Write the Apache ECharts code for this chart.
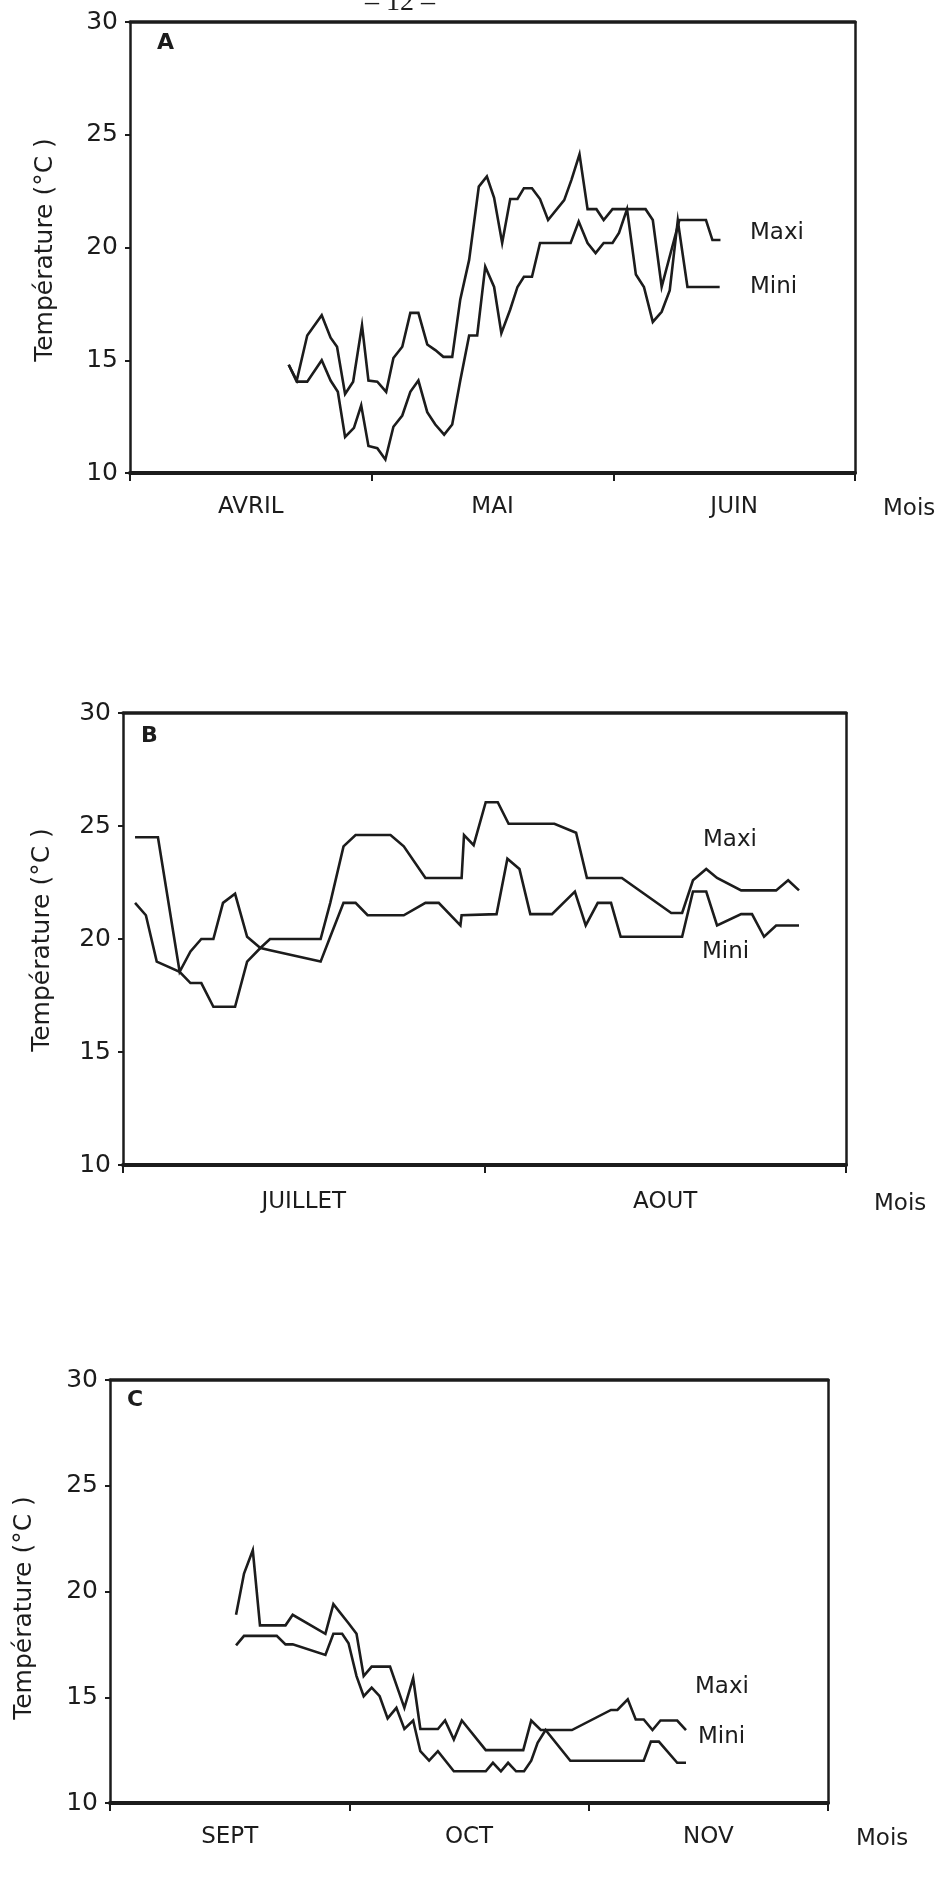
<!DOCTYPE html>
<html>
<head>
<meta charset="utf-8">
<script src="https://cdn.jsdelivr.net/npm/echarts@6/dist/echarts.min.js"></script>
<style>
  html, body { margin: 0; padding: 0; background: #ffffff; }
  #chart { width: 947px; height: 1881px; }
</style>
</head>
<body>
<div id="chart"></div>
<script>
// Daily max / min air temperature, three seasons (A: spring, B: summer, C: autumn).
// Each point is [day since start of first month, temperature °C].

const yTicks = [10, 15, 20, 25, 30];

// ---- A : avril - juin
const monthsA = ['AVRIL', 'MAI', 'JUIN'];
const maxiA = [
  [19.7, 14.8], [20.7, 14.1], [22.0, 16.1], [23.8, 17.0], [24.9, 16.0], [25.7, 15.6],
  [26.7, 13.5], [27.7, 14.05], [28.8, 16.55], [29.6, 14.1], [30.7, 14.05], [31.8, 13.6],
  [32.7, 15.1], [33.8, 15.6], [34.8, 17.1], [35.8, 17.1], [36.9, 15.7], [37.9, 15.45],
  [38.9, 15.15], [40.0, 15.15], [41.0, 17.7], [42.1, 19.45], [43.3, 22.7], [44.3, 23.15],
  [45.2, 22.2], [46.2, 20.2], [47.2, 22.15], [48.1, 22.15], [48.9, 22.63], [49.9, 22.63],
  [50.9, 22.15], [51.9, 21.22], [53.9, 22.1], [54.8, 23.0], [55.8, 24.13], [56.8, 21.7],
  [57.9, 21.7], [58.8, 21.22], [59.9, 21.7], [64.0, 21.7], [64.9, 21.22], [66.0, 18.26],
  [68.2, 21.22], [71.5, 21.22], [72.3, 20.33], [73.3, 20.33]
];
const miniA = [
  [19.7, 14.8], [20.7, 14.05], [22.0, 14.05], [23.8, 15.0], [24.9, 14.1], [25.8, 13.6],
  [26.7, 11.6], [27.8, 12.0], [28.7, 13.0], [29.6, 11.2], [30.7, 11.1], [31.7, 10.6],
  [32.7, 12.05], [33.8, 12.55], [34.8, 13.6], [35.8, 14.1], [36.9, 12.7], [37.9, 12.15],
  [39.0, 11.7], [40.0, 12.15], [41.0, 14.1], [42.1, 16.1], [43.1, 16.1], [44.1, 19.15],
  [45.2, 18.25], [46.1, 16.2], [47.2, 17.25], [48.1, 18.25], [48.9, 18.7], [49.9, 18.7],
  [50.9, 20.2], [54.7, 20.2], [55.7, 21.15], [56.8, 20.2], [57.8, 19.75], [58.8, 20.2],
  [59.9, 20.2], [60.7, 20.65], [61.7, 21.7], [62.8, 18.8], [63.8, 18.25], [64.9, 16.7],
  [66.0, 17.15], [67.0, 18.1], [68.0, 21.2], [69.2, 18.25], [73.2, 18.25]
];

// ---- B : juillet - aout
const monthsB = ['JUILLET', 'AOUT'];
const maxiB = [
  [1.0, 24.5], [2.9, 24.5], [4.7, 18.55], [5.6, 19.45], [6.5, 20.0], [7.5, 20.0],
  [8.3, 21.6], [9.3, 22.0], [10.3, 20.1], [11.4, 19.6], [12.2, 20.0], [16.4, 20.0],
  [17.2, 21.6], [18.3, 24.1], [19.3, 24.6], [22.2, 24.6], [23.3, 24.1], [25.1, 22.7],
  [28.1, 22.7], [28.3, 24.6], [29.1, 24.15], [30.1, 26.05], [31.1, 26.05], [32.0, 25.1],
  [35.8, 25.1], [37.6, 24.7], [38.5, 22.7], [41.4, 22.7], [45.5, 21.15], [46.4, 21.15],
  [47.3, 22.6], [48.4, 23.1], [49.3, 22.7], [51.3, 22.15], [54.2, 22.15], [55.2, 22.6],
  [56.1, 22.15]
];
const miniB = [
  [1.0, 21.6], [1.9, 21.05], [2.8, 19.0], [4.7, 18.55], [5.6, 18.05], [6.5, 18.05],
  [7.5, 17.0], [9.3, 17.0], [10.3, 19.0], [11.4, 19.6], [12.2, 19.5], [16.4, 19.0],
  [17.2, 20.1], [18.3, 21.6], [19.3, 21.6], [20.3, 21.05], [23.3, 21.05], [25.1, 21.6],
  [26.2, 21.6], [28.0, 20.6], [28.1, 21.05], [31.0, 21.1], [31.9, 23.55], [32.9, 23.1],
  [33.8, 21.1], [35.6, 21.1], [37.5, 22.1], [38.4, 20.6], [39.4, 21.6], [40.5, 21.6],
  [41.3, 20.1], [46.4, 20.1], [47.3, 22.1], [48.4, 22.1], [49.3, 20.6], [51.3, 21.1],
  [52.2, 21.1], [53.2, 20.1], [54.2, 20.6], [56.1, 20.6]
];

// ---- C : septembre - novembre
const monthsC = ['SEPT', 'OCT', 'NOV'];
const maxiC = [
  [15.8, 18.9], [16.8, 20.85], [17.9, 21.95], [18.8, 18.4], [22.0, 18.4], [22.9, 18.9],
  [27.0, 18.0], [28.0, 19.4], [29.9, 18.5], [30.9, 18.0], [31.8, 16.0], [32.8, 16.45],
  [35.1, 16.45], [36.9, 14.5], [38.0, 15.9], [38.9, 13.5], [41.1, 13.5], [42.0, 13.9],
  [43.1, 13.0], [44.1, 13.9], [47.1, 12.5], [51.8, 12.5], [52.8, 13.9], [54.0, 13.45],
  [57.9, 13.45], [62.8, 14.4], [63.6, 14.4], [64.9, 14.9], [65.9, 13.95], [66.9, 13.95],
  [68.0, 13.45], [69.0, 13.9], [71.1, 13.9], [72.2, 13.45]
];
const miniC = [
  [15.8, 17.45], [16.8, 17.9], [20.9, 17.9], [22.0, 17.5], [22.9, 17.5], [27.0, 17.0],
  [28.0, 18.0], [29.1, 18.0], [29.9, 17.55], [30.9, 16.0], [31.8, 15.05], [32.8, 15.45],
  [33.8, 15.05], [34.8, 14.0], [35.9, 14.5], [36.9, 13.5], [38.0, 13.9], [38.9, 12.45],
  [40.0, 12.0], [41.1, 12.45], [43.1, 11.5], [47.1, 11.5], [48.0, 11.9], [49.0, 11.5],
  [49.9, 11.9], [50.9, 11.5], [51.9, 11.5], [52.8, 12.0], [53.6, 12.85], [54.6, 13.45],
  [57.7, 12.0], [66.9, 12.0], [67.8, 12.9], [68.8, 12.9], [71.1, 11.9], [72.2, 11.9]
];

const INK = '#1c1c1c';
const FONT = 'DejaVu Sans';

// Panel frames (pixel layout) and label offsets
const panels = [
  { letter: 'A', months: monthsA, maxi: maxiA, mini: miniA, days: 90,
    grid: { left: 130, top: 22, width: 725, height: 451 }, labelMargin: 23,
    letterPos: [157, 43], title: [45, 250], maxiLab: [750, 233], miniLab: [750, 287] },
  { letter: 'B', months: monthsB, maxi: maxiB, mini: miniB, days: 60,
    grid: { left: 123, top: 713, width: 723, height: 452 }, labelMargin: 26,
    letterPos: [141, 736], title: [42, 940], maxiLab: [703, 840], miniLab: [702, 952] },
  { letter: 'C', months: monthsC, maxi: maxiC, mini: miniC, days: 90,
    grid: { left: 110, top: 1380, width: 718, height: 423 }, labelMargin: 23,
    letterPos: [127, 1400], title: [24, 1608], maxiLab: [695, 1687], miniLab: [698, 1737] }
];

const grid = [], xAxis = [], yAxis = [], series = [], graphic = [];

function textEl(x, y, text, size, opts) {
  const o = opts || {};
  return {
    type: 'text', x: x, y: y, rotation: o.rotation || 0,
    style: {
      text: text, fill: INK, fontFamily: o.family || FONT, fontSize: size,
      fontWeight: o.weight || 'normal',
      textAlign: o.align || 'left', textVerticalAlign: 'middle'
    }
  };
}

panels.forEach((p, i) => {
  grid.push(Object.assign({ containLabel: false }, p.grid));

  // month axis (bottom): ticks on month boundaries, names centred in each month
  xAxis.push({
    type: 'category', gridIndex: i, position: 'bottom', data: p.months, boundaryGap: true,
    axisLine: { lineStyle: { color: INK, width: 4 } },
    axisTick: { show: true, alignWithLabel: false, length: 8, lineStyle: { color: INK, width: 2 } },
    axisLabel: { color: INK, fontFamily: FONT, fontSize: 23, margin: p.labelMargin },
    name: 'Mois', nameLocation: 'end', nameGap: 28,
    nameTextStyle: { color: INK, fontFamily: FONT, fontSize: 23, verticalAlign: 'top',
                     padding: [p.labelMargin + 2, 0, 0, 0] },
    splitLine: { show: false }
  });
  // day axis carrying the series; drawn as the top frame line
  xAxis.push({
    type: 'value', gridIndex: i, position: 'top', min: 0, max: p.days,
    axisLine: { show: true, onZero: false, lineStyle: { color: INK, width: 3.5 } },
    axisTick: { show: false }, axisLabel: { show: false }, splitLine: { show: false }
  });

  yAxis.push({
    type: 'value', gridIndex: i, position: 'left', min: yTicks[0], max: yTicks[yTicks.length - 1],
    interval: 5,
    axisLine: { show: true, onZero: false, lineStyle: { color: INK, width: 2.5 } },
    axisTick: { show: true, length: 5, lineStyle: { color: INK, width: 2 } },
    axisLabel: { color: INK, fontFamily: FONT, fontSize: 25, margin: 12 },
    splitLine: { show: false }
  });
  yAxis.push({
    type: 'value', gridIndex: i, position: 'right', min: 10, max: 30,
    axisLine: { show: true, onZero: false, lineStyle: { color: INK, width: 2.5 } },
    axisTick: { show: false }, axisLabel: { show: false }, splitLine: { show: false }
  });

  [['Maxi', p.maxi], ['Mini', p.mini]].forEach(([name, data]) => {
    series.push({
      name: name + ' ' + p.letter, type: 'line', data: data,
      xAxisIndex: 2 * i + 1, yAxisIndex: 2 * i,
      showSymbol: false, symbol: 'none', smooth: false,
      lineStyle: { color: INK, width: 2.6, join: 'miter' },
      silent: true, animation: false
    });
  });

  graphic.push(textEl(p.letterPos[0], p.letterPos[1], p.letter, 22, { weight: 'bold' }));
  graphic.push(textEl(p.maxiLab[0], p.maxiLab[1], 'Maxi', 23));
  graphic.push(textEl(p.miniLab[0], p.miniLab[1], 'Mini', 23));
  graphic.push(textEl(p.title[0], p.title[1], 'Température (°C )', 25,
                      { rotation: Math.PI / 2, align: 'center' }));
});

// page number, partly cut by the top edge
graphic.push(textEl(400, 3, '– 12 –', 28, { family: 'Liberation Serif', align: 'center' }));

const chart = echarts.init(document.getElementById('chart'), null, { renderer: 'canvas' });
chart.setOption({
  backgroundColor: '#ffffff',
  animation: false,
  grid: grid, xAxis: xAxis, yAxis: yAxis, series: series, graphic: graphic
});
</script>
</body>
</html>
